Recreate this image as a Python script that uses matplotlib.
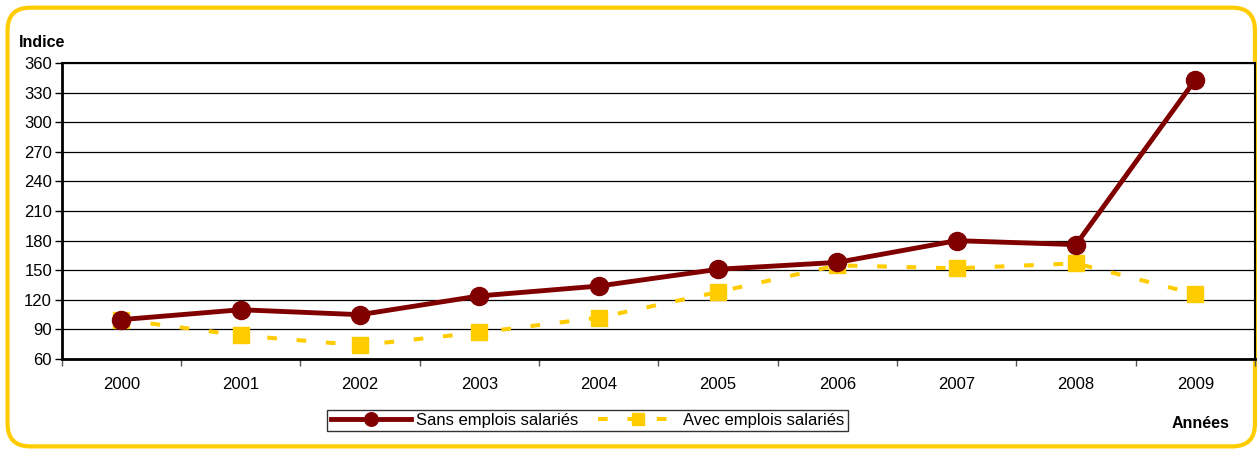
import matplotlib
matplotlib.use("Agg")
import matplotlib.pyplot as plt
from matplotlib.patches import FancyBboxPatch

years = ["2000", "2001", "2002", "2003", "2004", "2005", "2006", "2007", "2008", "2009"]
sans_emplois = [100, 110, 105, 124, 134, 151, 158, 180, 176, 343]
avec_emplois = [100, 84, 74, 87, 102, 128, 155, 152, 157, 126]
y_ticks = [60, 90, 120, 150, 180, 210, 240, 270, 300, 330, 360]

plt.rcParams['font.family'] = ['Liberation Sans', 'DejaVu Sans']

fig = plt.figure(figsize=(12.6, 4.5), dpi=100)

# rounded yellow frame around the whole chart
frame = FancyBboxPatch((0.006, 0.008), 0.99, 0.975, boxstyle="round,pad=0,rounding_size=0.018",
                       transform=fig.transFigure, facecolor="none", edgecolor="#FFCC00",
                       linewidth=3, mutation_aspect=2.8, zorder=-1)
fig.patches.append(frame)

ax = fig.add_axes([0.049, 0.202, 0.947, 0.658])
x = list(range(len(years)))

ax.plot(x, sans_emplois, color="#800000", linewidth=3.5, marker="o", markersize=13,
        label="Sans emplois salariés", zorder=3)
ax.plot(x, avec_emplois, color="#FFCC00", linewidth=2.9, linestyle=(0, (2.4, 4.9)),
        marker="s", markersize=12, label="Avec emplois salariés", zorder=2)

ax.set_xlim(-0.5, len(years) - 0.5)
ax.set_ylim(60, 360)
ax.set_yticks(y_ticks)
ax.set_xticks([i + 0.5 for i in range(-1, len(years))], minor=False)
ax.set_xticklabels([])
ax.set_xticks(x, minor=True)
ax.set_xticklabels(years, minor=True, fontsize=12)
ax.tick_params(axis="x", which="minor", length=0, pad=13)
ax.tick_params(axis="x", which="major", length=5, width=1, color="#555555")
ax.tick_params(axis="y", length=5, width=1, labelsize=12, pad=2)
ax.yaxis.grid(True, color="black", linewidth=0.9)
ax.set_axisbelow(True)
for side in ["left", "bottom"]:
    ax.spines[side].set_linewidth(2)
for side in ["top", "right"]:
    ax.spines[side].set_linewidth(1.5)

fig.text(0.015, 0.905, "Indice", fontsize=11.5, fontweight="bold", ha="left", va="center")
fig.text(0.93, 0.06, "Années", fontsize=11.5, fontweight="bold", ha="left", va="center")

leg = fig.legend(loc="center", bbox_to_anchor=(0.4663, 0.0656), ncol=2, fontsize=12,
                 frameon=True, fancybox=False, edgecolor="black", handlelength=4.8,
                 handletextpad=0.3, columnspacing=1.2, borderpad=0.2, markerscale=0.75)
leg.get_frame().set_linewidth(1)

fig.savefig("out.png", dpi=100)
